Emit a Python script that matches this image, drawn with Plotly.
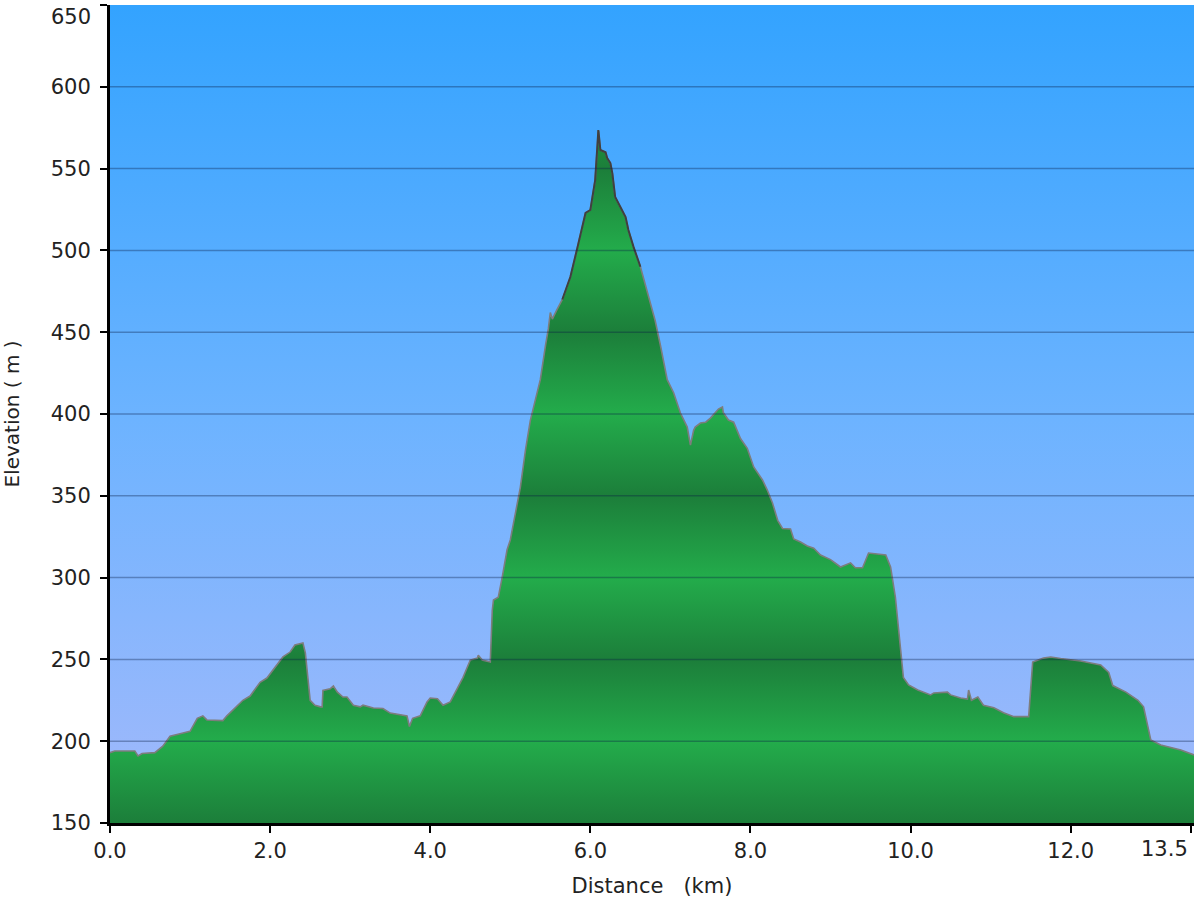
import plotly.graph_objects as go

# ---- data ----
distance_km = [0.0, 0.06, 0.31, 0.35, 0.40, 0.56, 0.66, 0.75, 0.875, 1.0, 1.09, 1.16, 1.21, 1.41, 1.46,
               1.66, 1.75, 1.875, 1.96, 2.09, 2.16, 2.25, 2.31, 2.41, 2.44, 2.5, 2.56, 2.63, 2.65, 2.66,
               2.75, 2.79, 2.84, 2.91, 2.96, 3.04, 3.125, 3.16, 3.29, 3.41, 3.5, 3.71, 3.74, 3.78, 3.875,
               3.96, 4.0, 4.09, 4.125, 4.16, 4.25, 4.34, 4.41, 4.5, 4.59, 4.6, 4.65, 4.75, 4.775, 4.79,
               4.85, 4.9, 4.96, 5.0, 5.06, 5.125, 5.19, 5.25, 5.31, 5.375, 5.44, 5.475, 5.5, 5.525, 5.575,
               5.65, 5.75, 5.84, 5.9, 5.94, 6.0, 6.06, 6.09, 6.1, 6.125, 6.19, 6.21, 6.25, 6.275, 6.31,
               6.375, 6.44, 6.475, 6.54, 6.625, 6.71, 6.81, 6.875, 6.96, 7.04, 7.125, 7.21, 7.25, 7.29,
               7.31, 7.375, 7.44, 7.5, 7.6, 7.65, 7.66, 7.725, 7.79, 7.875, 7.96, 8.04, 8.15, 8.21, 8.275,
               8.34, 8.4, 8.5, 8.54, 8.625, 8.71, 8.79, 8.875, 9.0, 9.125, 9.25, 9.31, 9.4, 9.475, 9.69,
               9.75, 9.81, 9.875, 9.91, 9.975, 10.09, 10.25, 10.29, 10.46, 10.5, 10.625, 10.71, 10.725,
               10.76, 10.84, 10.91, 11.04, 11.16, 11.29, 11.44, 11.475, 11.525, 11.6, 11.66, 11.75,
               11.875, 12.125, 12.375, 12.475, 12.525, 12.69, 12.84, 12.91, 13.0, 13.125, 13.375, 13.54]

elevation_m = [193, 194, 194, 191, 192.5, 193, 197, 203, 204.5, 206, 214, 215.5, 213, 212.6, 215.5,
               225, 227.6, 236, 238.6, 246.6, 251.5, 254.5, 258.8, 260, 254, 225, 222, 221, 221, 231,
               232, 233.7, 230, 227, 227, 222, 221, 222, 220.3, 220, 217.2, 215.5, 209, 214, 215.5,
               224, 226.4, 226, 224, 222, 224, 233, 239, 249.6, 250.8, 252.6, 249.6, 248.4, 280, 286.3,
               288, 300.4, 317, 323, 338, 355, 378, 396, 408, 421, 442, 452, 462, 458, 463,
               470, 483.7, 502, 514.3, 522.9, 524.7, 543, 565.6, 573.6, 561.4, 560, 556.5, 553.4, 547, 532.6,
               526.5, 520.4, 512.5, 502, 490, 474, 457, 442, 421, 413, 400.6, 392, 381, 390,
               392, 394.5, 395, 397.5, 403, 404.3, 401, 396.3, 395, 385, 379, 367.6, 359.7, 353.5, 345.6,
               335, 330, 329.7, 323.6, 321.8, 319.3, 318, 313.8, 311, 306.5, 309, 306, 306, 315, 313.8,
               306.5, 288, 257.6, 239, 234.4, 231.3, 228.3, 229.5, 230, 228.3, 226.4, 225.8, 231.3,
               225, 227, 222, 220.4, 217.4, 215, 215, 215, 248.4, 249.6, 250.8, 251.5,
               250.5, 249, 246.6, 242, 234, 230, 225, 221, 200.8, 197.7, 194.6, 191.6]

x_ticks = [0, 2, 4, 6, 8, 10, 12, 13.5]
x_tick_labels = ["0.0", "2.0", "4.0", "6.0", "8.0", "10.0", "12.0", "13.5"]
y_ticks = [150, 200, 250, 300, 350, 400, 450, 500, 550, 600, 650]
y_tick_labels = [str(v) for v in y_ticks]

X_MIN, X_MAX = 0, 13.54
Y_MIN, Y_MAX = 150, 650

# ---- styles ----
SKY_SCALE = [[0.0, "#a3b9fb"], [0.5, "#6cb3ff"], [1.0, "#33a3ff"]]
DARK = "#1c7e3a"
LIGHT = "#23ac4b"
n_bands = 10
GREEN_SCALE = [[i / n_bands, DARK if i % 2 == 0 else LIGHT] for i in range(n_bands + 1)]
FAMILY = "DejaVu Sans, Verdana, sans-serif"
TXT = "#222222"
TICK_SIZE = 21

fig = go.Figure()

# sky background
fig.add_trace(go.Scatter(
    x=[X_MIN, X_MAX, X_MAX, X_MIN, X_MIN], y=[Y_MIN, Y_MIN, Y_MAX, Y_MAX, Y_MIN],
    mode="lines", line=dict(width=0), fill="toself",
    fillgradient=dict(type="vertical", colorscale=SKY_SCALE, start=Y_MIN, stop=Y_MAX),
    hoverinfo="skip", showlegend=False))

# terrain
fig.add_trace(go.Scatter(
    x=distance_km, y=elevation_m, mode="lines",
    line=dict(color="#7d7d7d", width=1.6),
    fill="tozeroy",
    fillgradient=dict(type="vertical", colorscale=GREEN_SCALE, start=Y_MIN, stop=Y_MAX),
    showlegend=False))

# darker outline near the summit
peak_x = [d for d, e in zip(distance_km, elevation_m) if 5.6 <= d <= 6.65]
peak_y = [e for d, e in zip(distance_km, elevation_m) if 5.6 <= d <= 6.65]
fig.add_trace(go.Scatter(x=peak_x, y=peak_y, mode="lines",
                         line=dict(color="#404040", width=2), showlegend=False, hoverinfo="skip"))

# grid lines on top
for yv in y_ticks[1:-1]:
    fig.add_shape(type="line", xref="x", yref="y", x0=X_MIN, x1=X_MAX, y0=yv, y1=yv,
                  line=dict(color="rgba(10,30,70,0.35)", width=1.5), layer="above")

# edge tick labels drawn inside the figure (as in the reference)
fig.add_annotation(x=0, xref="paper", y=1, yref="paper", text=y_tick_labels[-1], showarrow=False,
                   xanchor="right", yanchor="top", xshift=-17, yshift=2,
                   font=dict(size=TICK_SIZE, family=FAMILY, color=TXT))
fig.add_annotation(x=x_ticks[-1], xref="x", y=0, yref="paper", text=x_tick_labels[-1], showarrow=False,
                   xanchor="right", yanchor="top", xshift=-1, yshift=-12,
                   font=dict(size=TICK_SIZE, family=FAMILY, color=TXT))

axis_common = dict(showgrid=False, zeroline=False, showline=True, linecolor="black", linewidth=3,
                   ticks="outside", ticklen=7, tickwidth=2, tickcolor="black", automargin=False,
                   tickfont=dict(size=TICK_SIZE, family=FAMILY, color=TXT))

fig.update_layout(
    width=1200, height=900,
    margin=dict(l=110, r=6, t=5, b=77),
    paper_bgcolor="white", plot_bgcolor="white",
    font=dict(family=FAMILY, color=TXT),
    xaxis=dict(range=[X_MIN, X_MAX], tickvals=x_ticks, ticktext=x_tick_labels[:-1] + [""],
               title=dict(text="Distance   (km)", font=dict(size=21, family=FAMILY, color=TXT),
                          standoff=17),
               **axis_common),
    yaxis=dict(range=[Y_MIN, Y_MAX], tickvals=y_ticks, ticktext=y_tick_labels[:-1] + [""],
               ticklabelstandoff=5,
               title=dict(text="Elevation ( m )", font=dict(size=20, family=FAMILY, color=TXT),
                          standoff=27),
               **axis_common),
)

fig.write_html("out.html", config={"displayModeBar": False},
               post_script="document.body.style.margin='0';")
